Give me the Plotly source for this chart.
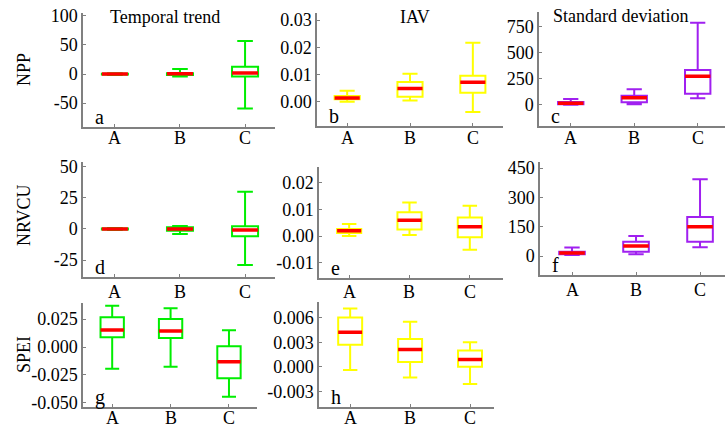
import plotly.graph_objects as go

categories = ["A", "B", "C"]

# Box statistics per panel: lower fence, q1, median, q3, upper fence
npp_trend_low = [-1.5, -4.0, -59.0]
npp_trend_q1 = [-0.6, -1.5, -4.0]
npp_trend_med = [0.0, 0.5, 1.8]
npp_trend_q3 = [0.6, 1.5, 12.5]
npp_trend_high = [1.5, 8.6, 57.0]

npp_iav_low = [0.0001, 0.0005, -0.0037]
npp_iav_q1 = [0.0010, 0.0019, 0.0034]
npp_iav_med = [0.0015, 0.0049, 0.0072]
npp_iav_q3 = [0.0022, 0.0073, 0.0096]
npp_iav_high = [0.0041, 0.0103, 0.0217]

npp_sd_low = [2, 7, 64]
npp_sd_q1 = [7, 26, 109]
npp_sd_med = [16, 70, 276]
npp_sd_q3 = [29, 89, 337]
npp_sd_high = [58, 151, 791]

nrvcu_trend_low = [-0.8, -4.0, -29.0]
nrvcu_trend_q1 = [-0.4, -1.4, -5.9]
nrvcu_trend_med = [0.0, 0.0, -0.8]
nrvcu_trend_q3 = [0.4, 1.4, 2.2]
nrvcu_trend_high = [0.8, 2.4, 30.0]

nrvcu_iav_low = [0.0000, 0.0004, -0.0051]
nrvcu_iav_q1 = [0.0012, 0.0025, -0.0004]
nrvcu_iav_med = [0.0020, 0.0059, 0.0035]
nrvcu_iav_q3 = [0.0027, 0.0089, 0.0070]
nrvcu_iav_high = [0.0045, 0.0126, 0.0114]

nrvcu_sd_low = [5, 9, 45]
nrvcu_sd_q1 = [9, 22, 73]
nrvcu_sd_med = [15, 51, 150]
nrvcu_sd_q3 = [22, 73, 200]
nrvcu_sd_high = [44, 102, 393]

spei_trend_low = [-0.0194, -0.0176, -0.0444]
spei_trend_q1 = [0.0087, 0.0080, -0.0280]
spei_trend_med = [0.0152, 0.0143, -0.0131]
spei_trend_q3 = [0.0265, 0.0250, 0.0006]
spei_trend_high = [0.0369, 0.0345, 0.0149]

spei_iav_low = [-0.0004, -0.0013, -0.0021]
spei_iav_q1 = [0.0027, 0.0006, 0.0000]
spei_iav_med = [0.0042, 0.0021, 0.0009]
spei_iav_q3 = [0.0060, 0.0034, 0.0020]
spei_iav_high = [0.0071, 0.0055, 0.0030]

# tick labels
ticks_a = [-50, 0, 50, 100]
ticktext_a = ["-50", "0", "50", "100"]
ticks_b = [0, 0.01, 0.02, 0.03]
ticktext_b = ["0.00", "0.01", "0.02", "0.03"]
ticks_c = [0, 250, 500, 750]
ticktext_c = ["0", "250", "500", "750"]
ticks_d = [-25, 0, 25, 50]
ticktext_d = ["-25", "0", "25", "50"]
ticks_e = [-0.01, 0, 0.01, 0.02]
ticktext_e = ["-0.01", "0.00", "0.01", "0.02"]
ticks_f = [0, 150, 300, 450]
ticktext_f = ["0", "150", "300", "450"]
ticks_g = [-0.05, -0.025, 0, 0.025]
ticktext_g = ["-0.050", "-0.025", "0.000", "0.025"]
ticks_h = [-0.003, 0, 0.003, 0.006]
ticktext_h = ["-0.003", "0.000", "0.003", "0.006"]

GREEN = "#00ee00"
YELLOW = "#ffff00"
PURPLE = "#a020f0"
RED = "#ff0000"
AXC = "#808080"
FONT = "Liberation Serif"
W, H = 725, 428

panels = [
    # key, stats, color, x-domain px, y-domain px, x range, y range, ticks, ticktext, x-label y px
    ("a", (npp_trend_low, npp_trend_q1, npp_trend_med, npp_trend_q3, npp_trend_high), GREEN,
     (83, 275), (13, 127), (-0.49, 2.46), (-91, 105), ticks_a, ticktext_a, 138),
    ("b", (npp_iav_low, npp_iav_q1, npp_iav_med, npp_iav_q3, npp_iav_high), YELLOW,
     (317, 503), (13, 126), (-0.48, 2.48), (-0.0088, 0.0326), ticks_b, ticktext_b, 138),
    ("c", (npp_sd_low, npp_sd_q1, npp_sd_med, npp_sd_q3, npp_sd_high), PURPLE,
     (539, 725), (12, 126), (-0.5, 2.43), (-202, 894), ticks_c, ticktext_c, 138),
    ("d", (nrvcu_trend_low, nrvcu_trend_q1, nrvcu_trend_med, nrvcu_trend_q3, nrvcu_trend_high), GREEN,
     (83, 275), (162, 277), (-0.49, 2.46), (-38.7, 54), ticks_d, ticktext_d, 292),
    ("e", (nrvcu_iav_low, nrvcu_iav_q1, nrvcu_iav_med, nrvcu_iav_q3, nrvcu_iav_high), YELLOW,
     (319, 503), (167, 278), (-0.5, 2.55), (-0.0157, 0.0259), ticks_e, ticktext_e, 292),
    ("f", (nrvcu_sd_low, nrvcu_sd_q1, nrvcu_sd_med, nrvcu_sd_q3, nrvcu_sd_high), PURPLE,
     (540, 725), (162, 275), (-0.5, 2.39), (-97, 481), ticks_f, ticktext_f, 290),
    ("g", (spei_trend_low, spei_trend_q1, spei_trend_med, spei_trend_q3, spei_trend_high), GREEN,
     (83, 257), (303, 407), (-0.5, 2.48), (-0.0536, 0.0393), ticks_g, ticktext_g, 418),
    ("h", (spei_iav_low, spei_iav_q1, spei_iav_med, spei_iav_q3, spei_iav_high), YELLOW,
     (319, 494), (302, 407), (-0.52, 2.4), (-0.0049, 0.0079), ticks_h, ticktext_h, 418),
]

fig = go.Figure()
layout = dict(
    width=W, height=H, margin=dict(l=0, r=0, t=0, b=0, pad=0), autosize=False,
    paper_bgcolor="white", plot_bgcolor="white", boxmode="overlay",
    showlegend=False, font=dict(family=FONT, size=18, color="black"),
)
annotations = []

for i, (key, st, col, xd, yd, xr, yr, tv, tt, lab_y) in enumerate(panels, start=1):
    xa = "x" if i == 1 else f"x{i}"
    ya = "y" if i == 1 else f"y{i}"
    low, q1, med, q3, high = st
    fig.add_trace(go.Box(
        x=categories, lowerfence=low, q1=q1, median=med, q3=q3, upperfence=high,
        xaxis=xa, yaxis=ya, width=0.4, whiskerwidth=0.6,
        line=dict(color=col, width=2), fillcolor="rgba(255,255,255,0)",
        boxpoints=False, hoverinfo="skip",
    ))
    fig.add_trace(go.Box(
        x=categories, lowerfence=med, q1=med, median=med, q3=med, upperfence=med,
        xaxis=xa, yaxis=ya, width=0.4, whiskerwidth=0,
        line=dict(color=RED, width=3.5), fillcolor="rgba(255,255,255,0)",
        boxpoints=False, hoverinfo="skip",
    ))
    xk = "xaxis" if i == 1 else f"xaxis{i}"
    yk = "yaxis" if i == 1 else f"yaxis{i}"
    layout[xk] = dict(
        domain=[xd[0] / W, xd[1] / W], anchor=ya, range=list(xr),
        type="category", categoryorder="array", categoryarray=categories,
        showline=True, linecolor=AXC, linewidth=1.5, mirror=False, automargin=False,
        ticks="inside", ticklen=3, tickcolor=AXC, showgrid=False, zeroline=False,
        showticklabels=False, fixedrange=True,
    )
    layout[yk] = dict(
        domain=[1 - yd[1] / H, 1 - yd[0] / H], anchor=xa, range=list(yr),
        tickmode="array", tickvals=tv, ticktext=tt, automargin=False,
        showline=True, linecolor=AXC, linewidth=1.5,
        ticks="inside", ticklen=3, tickcolor=AXC, showgrid=False, zeroline=False,
        tickfont=dict(family=FONT, size=18, color="black"), fixedrange=True,
    )
    # category labels under the axis
    for c in categories:
        annotations.append(dict(
            text=c, xref=xa, yref="paper", x=c, y=1 - lab_y / H,
            xanchor="center", yanchor="middle", showarrow=False,
            font=dict(family=FONT, size=18, color="black"),
        ))
    # panel letter
    annotations.append(dict(
        text=key, xref="paper", yref="paper",
        x=(xd[0] + 10) / W, y=1 - (yd[1] - 10) / H,
        xanchor="left", yanchor="middle", showarrow=False,
        font=dict(family=FONT, size=20, color="black"),
    ))

titles = [("Temporal trend", 165, 17), ("IAV", 415, 17), ("Standard deviation", 620, 16)]
for t, x, y in titles:
    annotations.append(dict(text=t, xref="paper", yref="paper", x=x / W, y=1 - y / H,
                            xanchor="center", yanchor="middle", showarrow=False,
                            font=dict(family=FONT, size=18, color="black")))

ylabels = [("NPP", 24, 70), ("NRVCU", 24, 215), ("SPEI", 24, 355)]
for t, x, y in ylabels:
    annotations.append(dict(text=t, xref="paper", yref="paper", x=x / W, y=1 - y / H,
                            xanchor="center", yanchor="middle", showarrow=False, textangle=-90,
                            font=dict(family=FONT, size=18, color="black")))

layout["annotations"] = annotations
fig.update_layout(**layout)
fig.write_html(
    "out.html",
    config={"displayModeBar": False},
    post_script="document.body.style.margin='0';document.body.style.overflow='hidden';",
)
